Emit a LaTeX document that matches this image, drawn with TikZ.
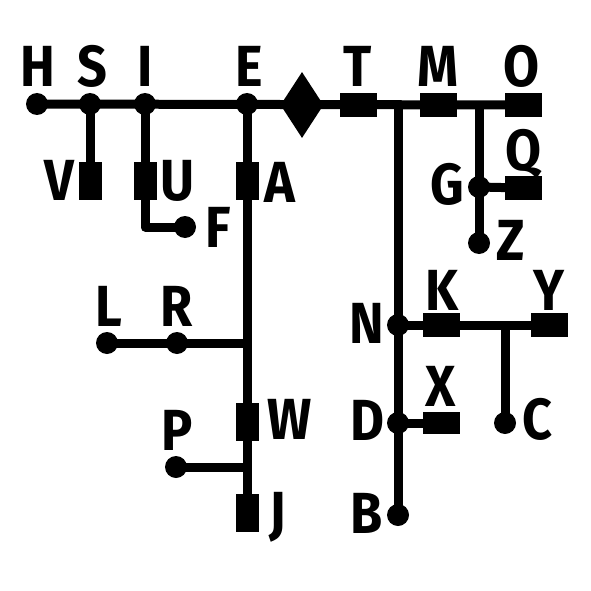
\documentclass[tikz,border=0pt]{standalone}
\usepackage{fontspec}
\newfontfamily\labfont[FakeStretch=0.9]{Fira Sans}
\usetikzlibrary{shapes.geometric,backgrounds}
\begin{document}
\begin{tikzpicture}[x=1pt,y=-1pt,
 dot/.style={circle,fill=black,inner sep=0pt,minimum size=22pt},
 hsq/.style={rectangle,fill=black,inner sep=0pt,minimum width=37pt,minimum height=24pt},
 vsq/.style={rectangle,fill=black,inner sep=0pt,minimum width=23pt,minimum height=38pt},
 dia/.style={diamond,fill=black,inner sep=0pt,minimum width=43pt,minimum height=66pt},
 lab/.style={inner sep=0pt,text height=40pt,text depth=0pt,font=\labfont\bfseries\fontsize{58pt}{58pt}\selectfont},
 wire/.style={line width=9pt,line join=round}
]
\useasboundingbox (0,0) rectangle (591,591);
% shapes
\node[dot] (H) at (37,104) {};
\node[dot] (S) at (90,104) {};
\node[dot] (I) at (145,104) {};
\node[dot] (E) at (247,104) {};
\node[dia] (Dm) at (302,105) {};
\node[hsq] (T) at (358,105) {};
\node[hsq] (M) at (438,105) {};
\node[hsq] (O) at (523,105) {};
\node[vsq] (V) at (90,181) {};
\node[vsq] (U) at (145,181) {};
\node[dot] (F) at (185,227) {};
\node[vsq] (A) at (247,181) {};
\node[vsq] (W) at (247,422) {};
\node[vsq] (J) at (247,513) {};
\node[dot] (L) at (107,343) {};
\node[dot] (R) at (177,343) {};
\node[dot] (P) at (176,467) {};
\node[dot] (G) at (479,187) {};
\node[hsq] (Q) at (523,188) {};
\node[dot] (Z) at (479,243) {};
\node[dot] (N) at (398,325) {};
\node[hsq] (K) at (441,325) {};
\node[hsq] (Y) at (549,325) {};
\node[dot] (C) at (505,423) {};
\node[dot] (D) at (398,423) {};
\node[hsq,minimum height=22pt] (X) at (441,423) {};
\node[dot] (B) at (398,515) {};
% junctions
\coordinate (jT) at (398,105);
\coordinate (jM) at (479,105);
\coordinate (jK) at (505,325);
\coordinate (jF) at (145,227);
\coordinate (jR) at (247,343);
\coordinate (jP) at (247,467);
% labels
\node[lab] (tH) at (38,67) {H};
\node[lab] (tS) at (92,67) {S};
\node[lab] (tI) at (145,67) {I};
\node[lab] (tE) at (249,67) {E};
\node[lab] (tT) at (358,67) {T};
\node[lab] (tM) at (438,67) {M};
\node[lab] (tO) at (522,67) {O};
\node[lab] (tV) at (59,180) {V};
\node[lab] (tU) at (177,180) {U};
\node[lab] (tA) at (280,182) {A};
\node[lab] (tF) at (218,227) {F};
\node[lab] (tQ) at (524,150) {Q};
\node[lab] (tG) at (447,184) {G};
\node[lab] (tZ) at (511,240) {Z};
\node[lab] (tL) at (109,306) {L};
\node[lab] (tR) at (177,306) {R};
\node[lab] (tW) at (290,419) {W};
\node[lab] (tP) at (177,430) {P};
\node[lab] (tJ) at (278,512) {J};
\node[lab] (tN) at (367,323) {N};
\node[lab] (tK) at (442,290) {K};
\node[lab] (tY) at (549,290) {Y};
\node[lab] (tX) at (441,386) {X};
\node[lab] (tD) at (367,420) {D};
\node[lab] (tC) at (537,419) {C};
\node[lab] (tB) at (367,513) {B};
% wires
\begin{pgfonlayer}{background}
\draw[wire] (H.center) -- (O.center);
\draw[wire] (S.center) -- (V.center);
\draw[wire] (I.center) -- (jF) -- (F.center);
\draw[wire] (E.center) -- (J.center);
\draw[wire] (L.center) -- (jR);
\draw[wire] (P.center) -- (jP);
\draw[wire] (jT) -- (B.center);
\draw[wire] (jM) -- (Z.center);
\draw[wire] (G.center) -- (Q.center);
\draw[wire] (N.center) -- (Y.center);
\draw[wire] (jK) -- (C.center);
\draw[wire] (D.center) -- (X.center);
\end{pgfonlayer}
\end{tikzpicture}
\end{document}
